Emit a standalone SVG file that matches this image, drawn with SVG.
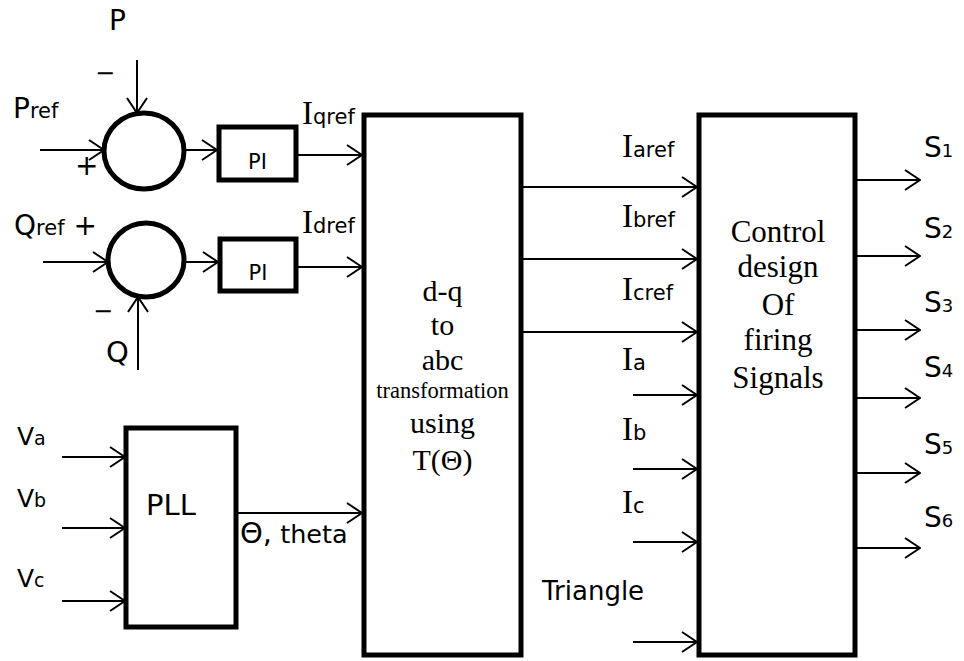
<svg xmlns="http://www.w3.org/2000/svg" width="964" height="661" viewBox="0 0 964 661">
<style>
.s{font-family:"DejaVu Sans",Verdana,sans-serif;fill:#000}
.t{font-family:"Liberation Serif","Times New Roman",serif;fill:#000}
.box{fill:#fff;stroke:#000;stroke-width:5}
.ln{fill:none;stroke:#000;stroke-width:2;marker-end:url(#ah)}
</style>
<defs>
<marker id="ah" markerUnits="userSpaceOnUse" viewBox="0 0 17 22" refX="16" refY="11" markerWidth="17" markerHeight="22" orient="auto">
<path d="M1,1 L16,11 L1,21" fill="none" stroke="#000" stroke-width="2"/>
</marker>
</defs>
<g id="connectors">
<line class="ln" x1="40" y1="150" x2="104" y2="150"/>
<line class="ln" x1="137" y1="60" x2="137" y2="113"/>
<line class="ln" x1="185" y1="150" x2="217" y2="150"/>
<line class="ln" x1="298" y1="155" x2="362" y2="155"/>
<line class="ln" x1="43" y1="262" x2="108" y2="262"/>
<line class="ln" x1="185" y1="262" x2="218" y2="262"/>
<line class="ln" x1="298" y1="267" x2="362" y2="267"/>
<line class="ln" x1="138" y1="370" x2="138" y2="297"/>
<line class="ln" x1="62" y1="457" x2="125" y2="457"/>
<line class="ln" x1="62" y1="528" x2="125" y2="528"/>
<line class="ln" x1="62" y1="601" x2="125" y2="601"/>
<line class="ln" x1="237" y1="513" x2="362" y2="513"/>
<line class="ln" x1="523" y1="187" x2="697" y2="187"/>
<line class="ln" x1="523" y1="259" x2="697" y2="259"/>
<line class="ln" x1="523" y1="332" x2="697" y2="332"/>
<line class="ln" x1="633" y1="395" x2="697" y2="395"/>
<line class="ln" x1="633" y1="469" x2="697" y2="469"/>
<line class="ln" x1="633" y1="542" x2="697" y2="542"/>
<line class="ln" x1="633" y1="642" x2="697" y2="642"/>
<line class="ln" x1="857" y1="180" x2="920" y2="180"/>
<line class="ln" x1="857" y1="256" x2="920" y2="256"/>
<line class="ln" x1="857" y1="330" x2="920" y2="330"/>
<line class="ln" x1="857" y1="398" x2="920" y2="398"/>
<line class="ln" x1="857" y1="473" x2="920" y2="473"/>
<line class="ln" x1="857" y1="548" x2="920" y2="548"/>
</g>
<g id="sum1">
<ellipse cx="144" cy="151" rx="40" ry="38" fill="#fff" stroke="#000" stroke-width="5"/>
</g>
<g id="sum2">
<ellipse cx="146" cy="260" rx="38" ry="37" fill="#fff" stroke="#000" stroke-width="5"/>
</g>
<g id="pi1">
<rect class="box" x="219" y="127" width="77" height="53"/>
<text class="s" x="257.5" y="169" font-size="21" text-anchor="middle">PI</text>
</g>
<g id="pi2">
<rect class="box" x="220" y="239" width="76" height="52"/>
<text class="s" x="258" y="280" font-size="21" text-anchor="middle">PI</text>
</g>
<g id="pll">
<rect class="box" x="126" y="428" width="110" height="199"/>
<text class="s" x="146" y="515" font-size="29">PLL</text>
</g>
<g id="dq">
<rect class="box" x="364" y="115" width="157" height="540"/>
<g class="t" font-size="30" text-anchor="middle">
<text x="442.5" y="301">d-q</text>
<text x="442.5" y="335">to</text>
<text x="442.5" y="370">abc</text>
<text x="442.5" y="398" font-size="22.5">transformation</text>
<text x="442.5" y="433">using</text>
<text x="442.5" y="470">T(Θ)</text>
</g>
</g>
<g id="ctrl">
<rect class="box" x="699" y="115" width="156" height="540"/>
<g class="t" font-size="31" text-anchor="middle">
<text x="778" y="242">Control</text>
<text x="778" y="277">design</text>
<text x="778" y="315">Of</text>
<text x="778" y="350">firing</text>
<text x="778" y="388">Signals</text>
</g>
</g>
<g id="labels">
<text class="s" x="109" y="30" font-size="28">P</text>
<text class="s" x="95" y="81" font-size="24">−</text>
<text class="s" x="13" y="118" font-size="28">P<tspan font-size="21">ref</tspan></text>
<text class="s" x="75" y="175" font-size="28">+</text>
<text class="s" x="14" y="235" font-size="28">Q<tspan font-size="21">ref</tspan> +</text>
<text class="s" x="93" y="319" font-size="24">−</text>
<text class="s" x="106" y="362" font-size="29">Q</text>
<text x="302" y="124"><tspan class="t" font-size="33">I</tspan><tspan class="s" font-size="21">qref</tspan></text>
<text x="302" y="233"><tspan class="t" font-size="33">I</tspan><tspan class="s" font-size="21">dref</tspan></text>
<text class="s" x="17" y="445" font-size="25">V<tspan font-size="19">a</tspan></text>
<text class="s" x="17" y="507" font-size="25">V<tspan font-size="19">b</tspan></text>
<text class="s" x="17" y="587" font-size="25">V<tspan font-size="19">c</tspan></text>
<text class="s" x="240" y="543" font-size="29">Θ,<tspan font-size="25.5"> theta</tspan></text>
<text x="622" y="157"><tspan class="t" font-size="33">I</tspan><tspan class="s" font-size="21">aref</tspan></text>
<text x="622" y="227"><tspan class="t" font-size="33">I</tspan><tspan class="s" font-size="21">bref</tspan></text>
<text x="622" y="300"><tspan class="t" font-size="33">I</tspan><tspan class="s" font-size="21">cref</tspan></text>
<text x="622" y="370"><tspan class="t" font-size="33">I</tspan><tspan class="s" font-size="21">a</tspan></text>
<text x="622" y="440"><tspan class="t" font-size="33">I</tspan><tspan class="s" font-size="21">b</tspan></text>
<text x="622" y="513"><tspan class="t" font-size="33">I</tspan><tspan class="s" font-size="21">c</tspan></text>
<text class="s" x="542" y="600" font-size="26">Triangle</text>
<text class="s" x="924" y="157" font-size="28">S<tspan font-size="18">1</tspan></text>
<text class="s" x="924" y="238" font-size="28">S<tspan font-size="18">2</tspan></text>
<text class="s" x="924" y="312" font-size="28">S<tspan font-size="18">3</tspan></text>
<text class="s" x="924" y="377" font-size="28">S<tspan font-size="18">4</tspan></text>
<text class="s" x="924" y="454" font-size="28">S<tspan font-size="18">5</tspan></text>
<text class="s" x="924" y="527" font-size="28">S<tspan font-size="18">6</tspan></text>
</g>
</svg>
